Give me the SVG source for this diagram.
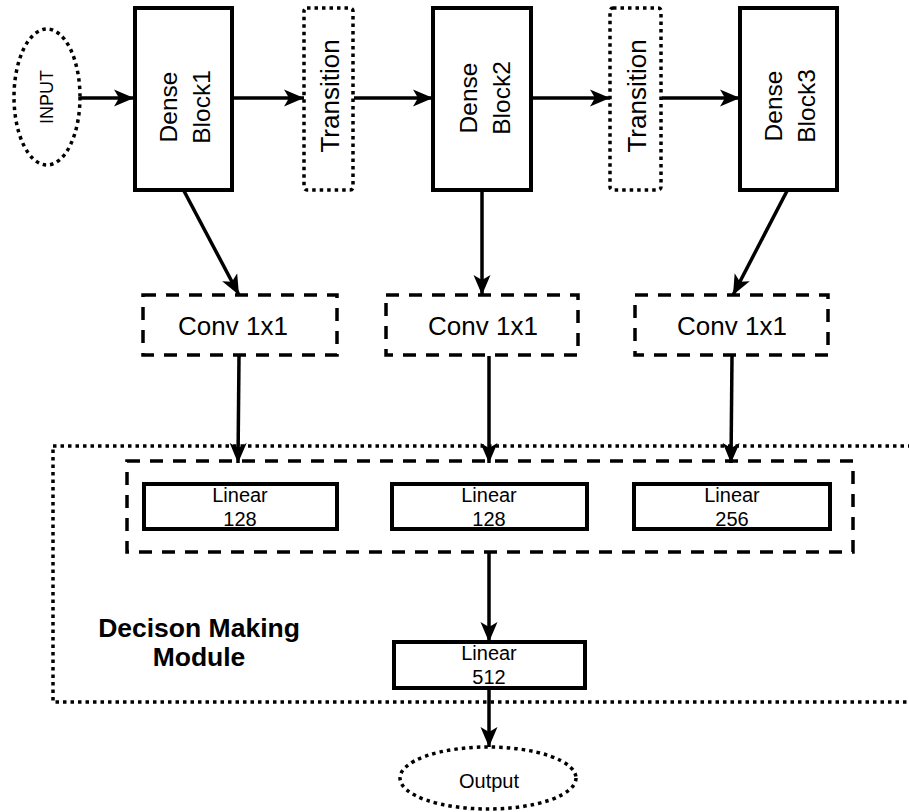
<svg xmlns="http://www.w3.org/2000/svg" width="909" height="812" viewBox="0 0 909 812">
<defs>
<style>
text{font-family:"Liberation Sans",Arial,sans-serif;fill:#000}
.solid{fill:#fff;stroke:#000;stroke-width:4}
.dot{fill:none;stroke:#000;stroke-width:3.5;stroke-dasharray:3.5 4}
.dash{fill:none;stroke:#000;stroke-width:3.5;stroke-dasharray:13 10}
.edge{fill:none;stroke:#000;stroke-width:3.5}
</style>
<marker id="ah" markerUnits="userSpaceOnUse" markerWidth="22" markerHeight="20" viewBox="0 -10 22 20" refX="20" refY="0" orient="auto">
<path d="M0,-8.5 L20,0 L0,8.5 L5,0 Z" fill="#000"/>
</marker>
</defs>
<rect width="909" height="812" fill="#fff"/>

<g id="module">
<rect x="53" y="446" width="880" height="256" class="dot" stroke-width="3"/>
<text x="199" y="637" font-size="26.5" font-weight="bold" text-anchor="middle">Decison Making</text>
<text x="199" y="666" font-size="26.5" font-weight="bold" text-anchor="middle">Module</text>
</g>

<g id="linear-group">
<rect x="127" y="461" width="726" height="91" class="dash"/>
</g>

<g id="input">
<ellipse cx="47" cy="97" rx="33" ry="68" class="dot"/>
<text transform="translate(53,97) rotate(-90)" font-size="18" text-anchor="middle">INPUT</text>
</g>

<g id="dense1">
<rect x="135" y="8" width="97" height="182" class="solid"/>
<text transform="translate(177,107) rotate(-90)" font-size="24.5" text-anchor="middle">Dense</text>
<text transform="translate(210,107) rotate(-90)" font-size="24.5" text-anchor="middle">Block1</text>
</g>

<g id="transition1">
<rect x="304" y="8" width="49" height="182" rx="3" class="dot"/>
<text transform="translate(339,96) rotate(-90)" font-size="26" text-anchor="middle">Transition</text>
</g>

<g id="dense2">
<rect x="433" y="8" width="98" height="182" class="solid"/>
<text transform="translate(477,98) rotate(-90)" font-size="24.5" text-anchor="middle">Dense</text>
<text transform="translate(510,98) rotate(-90)" font-size="24.5" text-anchor="middle">Block2</text>
</g>

<g id="transition2">
<rect x="610" y="8" width="51" height="182" rx="3" class="dot"/>
<text transform="translate(646,96) rotate(-90)" font-size="26" text-anchor="middle">Transition</text>
</g>

<g id="dense3">
<rect x="740" y="8" width="97" height="182" class="solid"/>
<text transform="translate(782,106) rotate(-90)" font-size="24.5" text-anchor="middle">Dense</text>
<text transform="translate(815,106) rotate(-90)" font-size="24.5" text-anchor="middle">Block3</text>
</g>

<g id="conv1">
<rect x="143" y="295" width="194" height="60" class="dash"/>
<text x="233" y="335" font-size="26" text-anchor="middle">Conv 1x1</text>
</g>
<g id="conv2">
<rect x="386" y="295" width="192" height="60" class="dash"/>
<text x="483" y="335" font-size="26" text-anchor="middle">Conv 1x1</text>
</g>
<g id="conv3">
<rect x="635" y="295" width="193" height="60" class="dash"/>
<text x="732" y="335" font-size="26" text-anchor="middle">Conv 1x1</text>
</g>

<g id="linear1">
<rect x="144" y="484" width="193" height="45" class="solid" stroke-width="3.5"/>
<text x="240" y="502" font-size="20" text-anchor="middle">Linear</text>
<text x="240" y="526" font-size="20" text-anchor="middle">128</text>
</g>
<g id="linear2">
<rect x="392" y="484" width="195" height="45" class="solid" stroke-width="3.5"/>
<text x="489" y="502" font-size="20" text-anchor="middle">Linear</text>
<text x="489" y="526" font-size="20" text-anchor="middle">128</text>
</g>
<g id="linear3">
<rect x="634" y="484" width="196" height="45" class="solid" stroke-width="3.5"/>
<text x="732" y="502" font-size="20" text-anchor="middle">Linear</text>
<text x="732" y="526" font-size="20" text-anchor="middle">256</text>
</g>

<g id="linear512">
<rect x="394" y="642" width="191" height="46" class="solid" stroke-width="3.5"/>
<text x="489" y="660" font-size="20" text-anchor="middle">Linear</text>
<text x="489" y="684" font-size="20" text-anchor="middle">512</text>
</g>

<g id="output">
<ellipse cx="488" cy="778" rx="88" ry="31" class="dot"/>
<text x="489" y="788" font-size="20" text-anchor="middle">Output</text>
</g>

<g id="connectors">
<line x1="80" y1="98" x2="134" y2="98" class="edge" marker-end="url(#ah)"/>
<line x1="233" y1="98" x2="304" y2="98" class="edge" marker-end="url(#ah)"/>
<line x1="354" y1="98" x2="433" y2="98" class="edge" marker-end="url(#ah)"/>
<line x1="532" y1="98" x2="610" y2="98" class="edge" marker-end="url(#ah)"/>
<line x1="662" y1="98" x2="740" y2="98" class="edge" marker-end="url(#ah)"/>
<line x1="184" y1="191" x2="239" y2="295" class="edge" marker-end="url(#ah)"/>
<line x1="482" y1="191" x2="482" y2="295" class="edge" marker-end="url(#ah)"/>
<line x1="787" y1="191" x2="733" y2="295" class="edge" marker-end="url(#ah)"/>
<line x1="239" y1="356" x2="238" y2="463" class="edge" marker-end="url(#ah)"/>
<line x1="489" y1="356" x2="489" y2="463" class="edge" marker-end="url(#ah)"/>
<line x1="732" y1="356" x2="731" y2="463" class="edge" marker-end="url(#ah)"/>
<line x1="489" y1="553" x2="489" y2="642" class="edge" marker-end="url(#ah)"/>
<line x1="489" y1="689" x2="489" y2="747" class="edge" marker-end="url(#ah)"/>
</g>
</svg>
